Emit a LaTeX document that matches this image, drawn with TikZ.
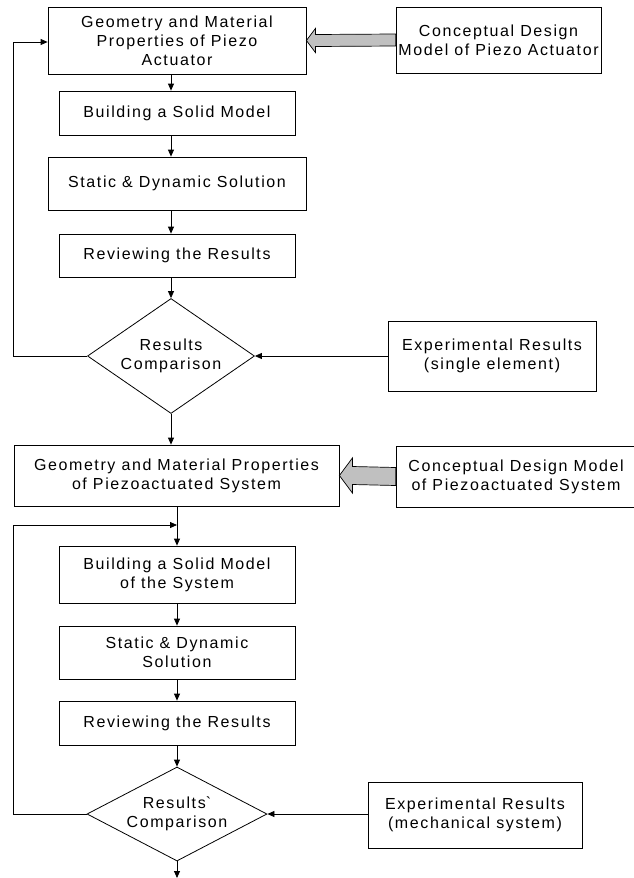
\documentclass[tikz,border=0pt]{standalone}
\usepackage{fontspec}
\setmainfont{Liberation Sans}[LetterSpace=10]
\usetikzlibrary{shapes.geometric,arrows.meta,calc}
\definecolor{arrowgray}{RGB}{192,192,192}
\tikzset{
  box/.style={draw=black, line width=0.8pt, inner sep=0pt, align=center,
    font=\fontsize{16}{19}\selectfont},
  dia/.style={draw=black, line width=0.8pt, diamond, inner sep=0pt, align=center,
    font=\fontsize{16}{19}\selectfont},
  conn/.style={draw=black, line width=0.8pt, -{Triangle[length=7pt,width=6pt]}},
  bigarrow/.style={draw=black, line width=0.7pt, fill=arrowgray, line join=miter}
}
\begin{document}
\begin{tikzpicture}[x=1pt,y=-1pt]
\useasboundingbox (0,0) rectangle (634,878);
\clip (0,0) rectangle (634,878);
% top part
\node[box, minimum width=258pt, minimum height=67pt] (geo1) at (177,40.5) {Geometry and Material\\Properties of Piezo\\Actuator};
\node[box, minimum width=205pt, minimum height=66pt] (con1) at (498.5,40) {Conceptual Design\\Model of Piezo Actuator};
\node[box, minimum width=236pt, minimum height=44pt] (build1) at (177,113) {Building a Solid Model};
\node[box, minimum width=258pt, minimum height=53pt] (stat1) at (177,183.5) {Static \& Dynamic Solution};
\node[box, minimum width=236pt, minimum height=43pt] (rev1) at (177,255.5) {Reviewing the Results};
\node[dia, minimum width=167pt, minimum height=115pt, shape aspect=1.45] (d1) at (171,356) {Results\\Comparison};
\node[box, minimum width=208pt, minimum height=70pt] (exp1) at (492,356) {Experimental Results\\(single element)};
% bottom part
\node[box, minimum width=325pt, minimum height=61pt] (geo2) at (176.5,475.5) {Geometry and Material Properties\\of Piezoactuated System};
\node[box, minimum width=240pt, minimum height=61pt] (con2) at (516,476.5) {Conceptual Design Model\\of Piezoactuated System};
\node[box, minimum width=236pt, minimum height=57pt] (build2) at (177,574.5) {Building a Solid Model\\of the System};
\node[box, minimum width=236pt, minimum height=53pt] (stat2) at (177,652.5) {Static \& Dynamic\\Solution};
\node[box, minimum width=236pt, minimum height=44pt] (rev2) at (177,723) {Reviewing the Results};
\node[dia, minimum width=180pt, minimum height=94pt, shape aspect=1.9] (d2) at (177,814) {Results\textasciigrave\\Comparison};
\node[box, minimum width=214pt, minimum height=66pt] (exp2) at (475,815) {Experimental Results\\(mechanical system)};
\coordinate (endpt) at (177,878);
\coordinate (fb1) at (13,356);
\coordinate (fb1top) at (13,42);
\coordinate (fb2) at (13,814);
\coordinate (join2) at (177,525);
% vertical arrows top
\draw[conn] (geo1.south -| d1.north) -- (build1.north -| d1.north);
\draw[conn] (build1.south -| d1.north) -- (stat1.north -| d1.north);
\draw[conn] (stat1.south -| d1.north) -- (rev1.north -| d1.north);
\draw[conn] (rev1.south -| d1.north) -- (d1.north);
\draw[conn] (d1.south) -- (geo2.north -| d1.south);
% experimental arrows
\draw[conn] (exp1.west) -- (d1.east);
\draw[conn] (exp2.west |- d2.east) -- (d2.east);
% feedback top
\draw[conn] (d1.west) -- (fb1) -- (fb1top) -- (geo1.west |- fb1top);
% bottom column
\draw[conn] (geo2.south -| d2.north) -- (build2.north -| d2.north);
\draw[conn] (build2.south -| d2.north) -- (stat2.north -| d2.north);
\draw[conn] (stat2.south -| d2.north) -- (rev2.north -| d2.north);
\draw[conn] (rev2.south -| d2.north) -- (d2.north);
\draw[conn] (d2.south) -- (endpt);
\draw[conn] (d2.west) -- (fb2) -- (fb2 |- join2) -- (join2);
% big gray arrows
\draw[bigarrow] (geo1.east) -- ++(9,-12) -- ++(0,6) -- ($(con1.west)+(0,-6)$) -- ($(con1.west)+(0,6)$) -- ($(geo1.east)+(9,6)$) -- ++(0,6) -- cycle;
\draw[bigarrow] (geo2.east) -- ++(13,-17.5) -- ++(0,8.5) -- ($(con2.west)+(0,-9)$) -- ($(con2.west)+(0,9)$) -- ($(geo2.east)+(13,9)$) -- ++(0,8.5) -- cycle;
\end{tikzpicture}
\end{document}
